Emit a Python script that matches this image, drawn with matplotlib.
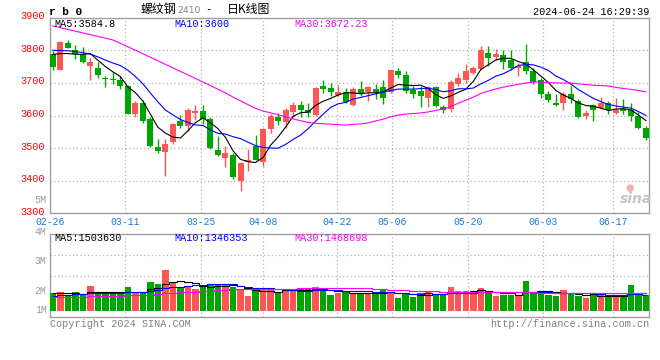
import matplotlib
matplotlib.use("Agg")
import matplotlib.pyplot as plt
import matplotlib.transforms as mtransforms
import numpy as np
import pandas as pd

# ---------------- data ----------------
opens = [3790, 3741, 3822, 3802, 3790, 3751, 3747, 3716, 3712, 3710,
         3690, 3604, 3637, 3588, 3502, 3488, 3518, 3582, 3567, 3608,
         3614, 3588, 3493, 3470, 3478, 3398, 3457, 3506, 3457, 3559,
         3596, 3580, 3612, 3631, 3618, 3602, 3690, 3684, 3663, 3671,
         3633, 3682, 3671, 3682, 3688, 3671, 3737, 3724, 3678, 3675,
         3655, 3688, 3627, 3620, 3698, 3708, 3731, 3743, 3792, 3778,
         3787, 3769, 3745, 3765, 3737, 3708, 3667, 3637, 3637, 3667,
         3643, 3598, 3631, 3624, 3639, 3608, 3620, 3616, 3598, 3561]
highs = [3799, 3830, 3831, 3817, 3810, 3777, 3763, 3722, 3733, 3720,
         3695, 3644, 3649, 3596, 3527, 3527, 3578, 3602, 3623, 3631,
         3631, 3596, 3537, 3506, 3486, 3457, 3496, 3541, 3563, 3606,
         3608, 3622, 3641, 3643, 3639, 3688, 3708, 3700, 3695, 3685,
         3688, 3706, 3692, 3698, 3710, 3741, 3747, 3735, 3690, 3692,
         3692, 3692, 3633, 3710, 3729, 3759, 3753, 3814, 3812, 3804,
         3800, 3800, 3761, 3820, 3745, 3714, 3676, 3665, 3671, 3692,
         3651, 3618, 3635, 3657, 3645, 3655, 3651, 3637, 3610, 3567]
lows = [3739, 3739, 3806, 3773, 3761, 3708, 3714, 3688, 3698, 3680,
        3604, 3596, 3576, 3504, 3486, 3414, 3512, 3561, 3551, 3586,
        3573, 3496, 3476, 3443, 3404, 3367, 3431, 3463, 3445, 3545,
        3571, 3563, 3596, 3596, 3596, 3600, 3669, 3659, 3659, 3639,
        3629, 3661, 3643, 3651, 3635, 3669, 3714, 3669, 3655, 3627,
        3625, 3625, 3608, 3612, 3690, 3700, 3727, 3741, 3753, 3769,
        3743, 3739, 3720, 3727, 3698, 3655, 3641, 3629, 3618, 3637,
        3592, 3588, 3582, 3620, 3604, 3606, 3604, 3582, 3559, 3525]
closes = [3749, 3826, 3808, 3790, 3763, 3763, 3724, 3712, 3708, 3690,
          3604, 3637, 3582, 3506, 3491, 3514, 3575, 3569, 3618, 3614,
          3588, 3500, 3478, 3484, 3410, 3455, 3465, 3465, 3560, 3598,
          3582, 3616, 3631, 3616, 3608, 3684, 3680, 3673, 3671, 3641,
          3682, 3667, 3686, 3673, 3655, 3739, 3723, 3675, 3667, 3661,
          3688, 3629, 3618, 3704, 3716, 3737, 3747, 3802, 3776, 3790,
          3763, 3745, 3753, 3737, 3704, 3665, 3647, 3631, 3667, 3651,
          3596, 3608, 3618, 3639, 3616, 3618, 3614, 3598, 3561, 3531]
# closes of the 29 sessions before the first candle (only used for the MAs)
pre_closes = [3988, 3970, 3952, 3925, 3925, 3886, 3874, 3870,
              4000, 3929, 3949, 3907, 3831, 3816, 3839, 3900, 3894, 3943, 3939, 3913,
              3830, 3820, 3810, 3800, 3805,
              3811, 3808, 3800, 3767]

# volume in millions of lots
volumes = [1.49, 1.60, 1.26, 1.60, 1.32, 2.11, 1.49, 1.43, 1.43, 1.49,
           2.05, 1.49, 1.60, 2.45, 2.28, 3.48, 2.34, 2.00, 2.11, 1.88,
           2.05, 2.28, 2.22, 2.28, 2.00, 1.77, 1.26, 1.66, 1.77, 1.94,
           1.54, 1.83, 1.66, 1.83, 1.94, 2.00, 1.77, 1.34, 1.54, 1.60,
           1.49, 1.54, 1.43, 1.49, 1.77, 1.60, 1.09, 1.49, 1.20, 1.54,
           1.60, 1.32, 1.37, 2.05, 1.66, 1.71, 1.49, 1.94, 1.60, 1.26,
           1.37, 1.37, 1.32, 2.56, 1.49, 1.49, 1.37, 1.26, 1.77, 1.49,
           1.26, 1.09, 1.32, 1.32, 1.20, 1.15, 1.26, 2.22, 1.54, 1.37]
pre_volumes = [1.05, 1.10, 1.02, 1.15, 1.08, 1.12, 1.00, 1.20, 1.05, 1.10,
               1.15, 1.08, 1.02, 1.12, 1.10, 1.05, 1.18, 1.08, 1.00, 1.05,
               1.00, 0.98, 1.05, 1.02, 1.10,
               1.35, 1.55, 1.48, 1.58]

tick_labels = ["02-26", "03-11", "03-25", "04-08", "04-22",
               "05-06", "05-20", "06-03", "06-17"]
price_ticks = [3300, 3400, 3500, 3600, 3700, 3800, 3900]
vol_axis_labels = ["4M", "3M", "2M", "1M"]

price_ma_text = ["MA5:3584.8", "MA10:3600", "MA30:3672.23"]
vol_ma_text = ["MA5:1503630", "MA10:1346353", "MA30:1468698"]

# ---------------- layout helpers ----------------
W, H = 660, 360
fig = plt.figure(figsize=(6.6, 3.6), dpi=100)
fig.patch.set_facecolor("white")


def fx(x):
    return x / W


def fy(y):
    return 1 - y / H


MONO = "Liberation Mono"
CJK = ["Noto Sans CJK SC", "DejaVu Sans"]
RED = "#ff5555"
GREEN = "#00a600"
GRID = "#b4b4b4"
SPINE = "#a0a0a0"
DATE_BLUE = "#1a7ad0"

tick_pos = [-0.37, 9.65, 19.73, 27.99, 37.88, 45.13, 55.25, 65.27, 74.55]

n = len(closes)
x = np.arange(n)
o = np.array(opens, float)
h = np.array(highs, float)
l = np.array(lows, float)
c = np.array(closes, float)
up = c >= o
colors = np.where(up, RED, GREEN)

allc = pd.Series(pre_closes + closes, dtype=float)
npre = len(pre_closes)
ma5 = allc.rolling(5).mean().values[npre:]
ma10 = allc.rolling(10).mean().values[npre:]
ma30 = allc.rolling(30).mean().values[npre:]

allv = pd.Series(pre_volumes + volumes, dtype=float) * 1e6
vma5 = allv.rolling(5).mean().values[npre:]
vma10 = allv.rolling(10).mean().values[npre:]
vma30 = allv.rolling(30).mean().values[npre:]
v = np.array(volumes) * 1e6

xlim = (-0.37, 79.4)

# ---------------- price panel ----------------
ax = fig.add_axes([fx(50), fy(213.3), (649 - 50) / W, (213.3 - 17.7) / H])
ax.set_xlim(*xlim)
ax.set_ylim(3300, 3900)
ax.vlines(x, l, h, colors=colors, linewidth=1.0, zorder=3)
body_b = np.minimum(o, c)
body_h = np.maximum(np.abs(c - o), 2.0)
ax.bar(x, body_h, bottom=body_b, width=0.8, color=colors, linewidth=0, zorder=4)
ax.plot(x, ma5, color="black", lw=0.8, zorder=5)
ax.plot(x, ma10, color="#0000ff", lw=0.8, zorder=5)
ax.plot(x, ma30, color="#ff00ff", lw=0.8, zorder=5)

ax.set_yticks(price_ticks)
ax.set_yticklabels([str(t) for t in price_ticks], family=MONO)
ax.set_xticks(tick_pos)
ax.set_xticklabels(tick_labels, family=MONO)
ax.tick_params(axis="y", length=0, pad=3.5, labelcolor="#ff0000", labelsize=7.3)
ax.tick_params(axis="x", length=0, pad=2.5, labelcolor=DATE_BLUE, labelsize=7.0)
# the price labels sit a little above their grid lines in the reference
up_shift = mtransforms.ScaledTranslation(0, 2.5 / 100, fig.dpi_scale_trans)
for lab in ax.get_yticklabels():
    lab.set_transform(lab.get_transform() + up_shift)
ax.grid(True, color=GRID, linestyle=(0, (1, 2)), linewidth=0.9, zorder=0)
ax.set_axisbelow(True)
for s in ax.spines.values():
    s.set_color(SPINE)
    s.set_linewidth(1.0)

# ---------------- volume panel ----------------
axv = fig.add_axes([fx(50), fy(317.3), (649 - 50) / W, (317.3 - 234) / H])
axv.set_xlim(*xlim)
axv.set_ylim(-0.564e6, 6.555e6)
axv.bar(x, v, width=0.86, color=colors, linewidth=0, zorder=3)
axv.plot(x, vma5, color="black", lw=0.8, drawstyle="steps-mid", zorder=5)
axv.plot(x, vma10, color="#0000ff", lw=0.8, drawstyle="steps-mid", zorder=5)
axv.plot(x, vma30, color="#ff00ff", lw=0.8, drawstyle="steps-mid", zorder=5)
axv.set_xticks(tick_pos)
axv.set_yticks([1.2e6, 2.966e6, 4.735e6])
axv.set_xticklabels([])
axv.set_yticklabels([])
axv.tick_params(length=0)
axv.grid(True, color=GRID, linestyle=(0, (1, 2)), linewidth=0.9, zorder=0)
axv.set_axisbelow(True)
for s in axv.spines.values():
    s.set_color(SPINE)
    s.set_linewidth(1.0)

# ---------------- texts ----------------
fs = 7.3
fig.text(fx(49), fy(11.7), "r b 0", family=MONO, weight="bold", fontsize=8,
         ha="left", va="center", color="black")
fig.text(fx(141), fy(9.5), "螺纹钢", family=CJK, fontsize=8.6, ha="left", va="center")
fig.text(fx(177), fy(10.5), "2410", family="DejaVu Sans", fontsize=6.6, ha="left",
         va="center", color="#808080")
fig.text(fx(205), fy(9.5), "-", family=MONO, fontsize=8, ha="left", va="center")
fig.text(fx(227), fy(9.5), "日K线图", family=CJK, fontsize=8.6, ha="left", va="center")
fig.text(fx(649), fy(12.3), "2024-06-24 16:29:39", family=MONO, fontsize=fs,
         ha="right", va="center", color="black")

ma_x = [54, 174, 294.5]
ma_cols = ["black", "#0000ff", "#ff00ff"]
for t, xx, cc in zip(price_ma_text, ma_x, ma_cols):
    fig.text(fx(xx), fy(24), t, family=MONO, fontsize=fs, ha="left", va="center", color=cc)
for t, xx, cc in zip(vol_ma_text, ma_x, ma_cols):
    fig.text(fx(xx), fy(238.3), t, family=MONO, fontsize=fs, ha="left", va="center", color=cc)

fig.text(fx(46.5), fy(200.3), "5M", family=MONO, fontsize=fs, ha="right", va="center",
         color="#999999")
for t, yy in zip(vol_axis_labels, [231.5, 260.7, 290.7, 310.3]):
    fig.text(fx(46.5), fy(yy), t, family=MONO, fontsize=7.0, ha="right", va="center",
             color="#999999")

fig.text(fx(50), fy(324), "Copyright 2024 SINA.COM", family=MONO, fontsize=fs,
         ha="left", va="center", color="#808080")
fig.text(fx(649), fy(324), "http://finance.sina.com.cn", family=MONO, fontsize=fs,
         ha="right", va="center", color="#808080")

# sina watermark
fig.text(fx(636), fy(199), "sina", family="DejaVu Sans", fontsize=10, style="italic",
         weight="bold", ha="center", va="center", color="#c4c4c4")
fig.text(fx(630), fy(188), "●", family="DejaVu Sans", fontsize=7, ha="center",
         va="center", color="#f5b0b0")

fig.savefig("out.png", dpi=100, facecolor="white")
